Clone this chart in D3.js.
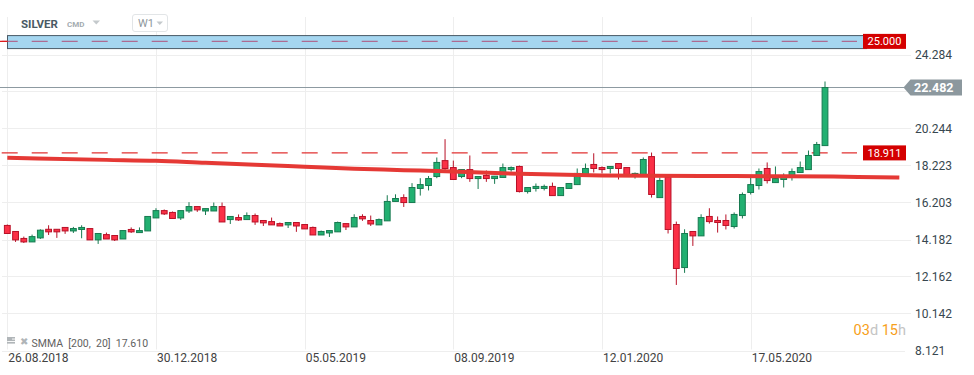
<!DOCTYPE html>
<html>
<head>
<meta charset="utf-8">
<script src="https://cdn.jsdelivr.net/npm/d3@7"></script>
<style>
  body { margin: 0; background: #fff; }
  svg { display: block; font-family: Roboto, "Open Sans", sans-serif; }
</style>
</head>
<body>
<div id="chart"></div>
<script>
// weekly candles, SILVER W1, first bar = week of 26.08.2018
const firstWeek = "2018-08-26";
const open = [14.95,14.62,14.24,14.05,14.27,14.74,14.74,14.84,14.65,14.73,
  14.78,14.16,14.45,14.40,14.21,14.73,14.56,14.65,15.36,15.76,
  15.66,15.36,15.74,15.98,15.74,15.74,15.98,15.27,15.38,15.27,
  15.49,15.22,15.16,15.05,14.98,15.11,15.00,14.84,14.43,14.54,
  14.60,15.05,14.87,15.44,15.22,14.98,15.20,16.26,16.47,16.20,
  16.97,17.13,17.62,18.49,18.11,17.62,18.00,17.51,17.68,17.51,
  17.57,18.00,18.17,16.80,16.97,16.97,17.08,16.58,16.97,17.18,
  17.73,18.28,18.11,18.06,18.33,18.11,17.68,17.68,18.71,16.47,
  17.58,15.00,12.65,14.62,14.38,15.44,15.22,15.22,14.89,15.49,
  16.75,17.13,18.06,17.29,17.46,17.57,17.84,18.00,18.77,19.31];
const high = [15.00,14.62,14.34,14.45,14.74,14.96,14.74,14.84,14.87,14.96,
  14.78,14.51,14.56,14.40,14.67,14.84,14.84,15.44,15.89,15.82,
  15.71,15.76,16.22,15.98,15.87,16.20,16.20,15.44,15.55,15.66,
  15.60,15.22,15.38,15.11,15.11,15.11,15.00,14.89,14.67,14.67,
  15.16,15.05,15.56,15.56,15.49,15.33,16.60,16.65,16.65,17.26,
  17.53,17.65,18.66,19.66,18.49,18.00,18.77,17.62,17.95,17.64,
  18.33,18.17,18.22,17.02,17.24,17.18,17.29,17.02,17.26,18.06,
  18.33,18.89,18.17,18.17,18.33,18.11,17.84,18.66,18.93,17.57,
  17.65,15.16,14.74,14.62,15.56,15.89,15.44,15.55,15.66,16.75,
  17.57,18.06,18.39,18.17,17.79,18.06,18.44,19.04,19.51,22.81];
const low = [14.51,14.05,13.99,14.05,14.21,14.43,14.27,14.49,14.54,14.25,
  14.16,13.94,14.21,14.10,14.21,14.54,14.56,14.65,15.36,15.52,
  15.33,15.25,15.63,15.69,15.52,15.74,15.14,15.03,15.20,15.27,
  14.98,14.92,14.98,14.92,14.81,14.60,14.76,14.43,14.43,14.32,
  14.60,14.70,14.87,15.20,14.92,14.98,15.20,16.26,15.96,16.20,
  16.58,16.86,17.53,17.98,17.46,17.53,17.33,16.94,17.33,17.22,
  17.57,17.89,16.75,16.69,16.80,16.86,16.58,16.58,16.97,17.18,
  17.73,17.84,17.79,17.79,17.46,17.68,17.51,17.68,16.47,16.47,
  14.51,11.70,12.36,13.83,14.38,15.05,14.56,14.73,14.78,15.33,
  16.64,16.91,17.24,17.29,17.02,17.40,17.84,18.00,18.77,19.31];
const close = [14.51,14.16,14.05,14.34,14.69,14.60,14.60,14.65,14.78,14.84,
  14.16,14.51,14.21,14.16,14.67,14.60,14.67,15.44,15.76,15.58,
  15.33,15.76,15.98,15.80,15.87,15.98,15.14,15.44,15.25,15.49,
  15.14,15.09,14.98,14.92,15.11,14.92,14.76,14.43,14.62,14.67,
  15.11,14.87,15.38,15.31,15.03,15.27,16.26,16.42,16.20,17.02,
  17.18,17.51,18.39,18.06,17.46,18.00,17.51,17.62,17.51,17.64,
  18.11,18.11,16.80,17.02,17.08,17.08,16.58,17.02,17.24,17.79,
  18.06,18.06,18.00,18.17,18.06,17.68,17.79,18.55,16.64,17.40,
  14.73,12.60,14.51,14.38,15.38,15.16,15.11,14.95,15.55,16.64,
  17.18,17.89,17.40,17.51,17.62,17.89,18.11,18.77,19.37,22.482];

// SMMA(200) shifted 20 bars, read at bar index
const smmaBar = [0, 12, 18, 24, 30, 36, 42, 48, 54, 62, 72, 84, 94, 103, 108];
const smmaVal = [18.64, 18.53, 18.48, 18.37, 18.27, 18.16, 18.05, 17.97, 17.89, 17.77, 17.68, 17.65, 17.64, 17.60, 17.57];

const yGrid = [24.284, 22.264, 20.244, 18.223, 16.203, 14.182, 12.162, 10.142, 8.121];
const yLabels = [24.284, 20.244, 18.223, 16.203, 14.182, 12.162, 10.142, 8.121];
const xTicks = ["2018-08-26", "2018-12-30", "2019-05-05", "2019-09-08", "2020-01-12", "2020-05-17"];
const levels = [25.000, 18.911];
const smmaLast = 17.610;

const width = 974, height = 375;
const plotLeft = 0, plotRight = 904, plotTop = 17, plotBottom = 349.5;

const parse = d3.utcParse("%Y-%m-%d");
const fmt = d3.utcFormat("%d.%m.%Y");
const t0 = parse(firstWeek);
const barDate = i => d3.utcWeek.offset(t0, i);

const x = d3.scaleUtc()
  .domain([t0, barDate(close.length - 1)])
  .range([7.3, 825]);
const y = d3.scaleLinear()
  .domain([8.121, 24.284])
  .range([350.5, 54.5]);

const svg = d3.select("#chart").append("svg")
  .attr("width", width)
  .attr("height", height);

svg.append("defs").append("clipPath").attr("id", "plot")
  .append("rect")
  .attr("x", plotLeft).attr("y", plotTop)
  .attr("width", plotRight - plotLeft).attr("height", plotBottom - plotTop);

// grid
svg.append("g").selectAll("line")
  .data(yGrid)
  .join("line")
  .attr("x1", 2).attr("x2", (d, i) => i === yGrid.length - 1 ? 905 : 911)
  .attr("y1", d => Math.round(y(d)) + 0.5)
  .attr("y2", d => Math.round(y(d)) + 0.5)
  .attr("stroke", "#eeeeee");

svg.append("g").selectAll("line")
  .data(xTicks.map(parse))
  .join("line")
  .attr("x1", d => Math.round(x(d)) + 0.5)
  .attr("x2", d => Math.round(x(d)) + 0.5)
  .attr("y1", plotTop).attr("y2", plotBottom)
  .attr("stroke", "#eeeeee");

// y axis labels
const yAxis = d3.axisRight(y).tickValues(yLabels).tickSize(0).tickPadding(0)
  .tickFormat(d3.format(".3f"));
svg.append("g")
  .attr("transform", "translate(915,0)")
  .call(yAxis)
  .call(g => g.select(".domain").remove())
  .selectAll("text")
  .attr("font-family", "Roboto, sans-serif")
  .attr("font-size", 12)
  .attr("fill", "#37474f");

// x axis labels
const xAxis = d3.axisBottom(x).tickValues(xTicks.map(parse)).tickSize(0).tickPadding(0)
  .tickFormat(fmt);
svg.append("g")
  .attr("transform", "translate(0,352)")
  .call(xAxis)
  .call(g => g.select(".domain").remove())
  .selectAll("text")
  .attr("text-anchor", "start")
  .attr("dx", 0.5)
  .attr("dy", 9.5)
  .attr("font-family", "Roboto, sans-serif")
  .attr("font-size", 12)
  .attr("fill", "#424242");

const plot = svg.append("g").attr("clip-path", "url(#plot)");

// blue zone around 25.000
plot.append("rect")
  .attr("x", 7.5).attr("y", y(25.000) - 5.8)
  .attr("width", 859).attr("height", 13)
  .attr("fill", "#a5d6f0")
  .attr("stroke", "#4a5a66").attr("stroke-width", 1);

// level lines
plot.append("g").selectAll("line")
  .data(levels)
  .join("line")
  .attr("x1", 1.7).attr("x2", 857)
  .attr("y1", d => y(d)).attr("y2", d => y(d))
  .attr("stroke", (d, i) => i === 0 ? "#b0507a" : "#dd1c1c")
  .attr("stroke-opacity", (d, i) => i === 0 ? 0.8 : 0.9)
  .attr("stroke-width", 1.3)
  .attr("stroke-dasharray", "16,14");
plot.append("line")
  .attr("x1", 0).attr("x2", 7.5)
  .attr("y1", y(levels[0])).attr("y2", y(levels[0]))
  .attr("stroke", "#dd1c1c").attr("stroke-width", 1.3);

// last price line
plot.append("line")
  .attr("x1", 0).attr("x2", plotRight)
  .attr("y1", y(close[close.length - 1])).attr("y2", y(close[close.length - 1]))
  .attr("stroke", "#8d9aa1").attr("stroke-width", 1);

// candles
const bars = d3.range(close.length);
const up = i => close[i] >= open[i];
const candle = plot.append("g").selectAll("g")
  .data(bars)
  .join("g");
candle.append("line")
  .attr("x1", i => x(barDate(i))).attr("x2", i => x(barDate(i)))
  .attr("y1", i => y(high[i])).attr("y2", i => y(low[i]))
  .attr("stroke", i => up(i) ? "#177a50" : "#b81127")
  .attr("stroke-width", 1);
candle.append("rect")
  .attr("x", i => x(barDate(i)) - 2.9)
  .attr("width", 5.8)
  .attr("y", i => y(Math.max(open[i], close[i])))
  .attr("height", i => Math.max(1, Math.abs(y(open[i]) - y(close[i]))))
  .attr("fill", i => up(i) ? "#22b071" : "#fb3046")
  .attr("stroke", i => up(i) ? "#177a50" : "#b81127")
  .attr("stroke-width", 1);

// SMMA line
const smmaLine = d3.line()
  .x(d => x(barDate(d[0])))
  .y(d => y(d[1]))
  .curve(d3.curveMonotoneX);
plot.append("path")
  .datum(smmaBar.map((b, i) => [b, smmaVal[i]]))
  .attr("d", smmaLine)
  .attr("fill", "none")
  .attr("stroke", "#e53935")
  .attr("stroke-width", 4);

// level labels
const lvl = svg.append("g").selectAll("g")
  .data(levels)
  .join("g")
  .attr("transform", d => `translate(863,${y(d) - 7.5})`);
lvl.append("rect")
  .attr("width", 43).attr("height", 15)
  .attr("fill", "#d40000");
lvl.append("text")
  .attr("x", 21.5).attr("y", 11.5)
  .attr("text-anchor", "middle")
  .attr("font-size", 11)
  .attr("fill", "#fff")
  .text(d => d3.format(".3f")(d));

// last price label
const lastY = y(close[close.length - 1]);
svg.append("path")
  .attr("d", `M903.5,${lastY} L910.5,${lastY - 8} L962,${lastY - 8} L962,${lastY + 8} L910.5,${lastY + 8} Z`)
  .attr("fill", "#8c989e");
svg.append("text")
  .attr("x", 914).attr("y", lastY + 4.5)
  .attr("font-size", 12.5).attr("font-weight", "bold")
  .attr("fill", "#fff")
  .text(d3.format(".3f")(close[close.length - 1]));

// header
svg.append("text")
  .attr("x", 21).attr("y", 27.5)
  .attr("font-size", 11.5).attr("font-weight", "bold")
  .attr("fill", "#4a5a64")
  .text("SILVER");
svg.append("text")
  .attr("x", 67).attr("y", 27)
  .attr("font-size", 8).attr("font-weight", "bold")
  .attr("fill", "#a4acb1")
  .text("CMD");
svg.append("path")
  .attr("d", "M92.5,20.5 L100,20.5 L96.25,24.5 Z")
  .attr("fill", "#c4c9cc");
svg.append("rect")
  .attr("x", 132.5).attr("y", 14.5).attr("width", 35).attr("height", 17).attr("rx", 2.5)
  .attr("fill", "#fff").attr("stroke", "#e2e5e7");
svg.append("text")
  .attr("x", 138).attr("y", 27)
  .attr("font-size", 11)
  .attr("fill", "#8e979c")
  .text("W1");
svg.append("path")
  .attr("d", "M156.5,21.5 L163,21.5 L159.75,25 Z")
  .attr("fill", "#c4c9cc");

// legend
const leg = svg.append("g").attr("transform", "translate(7,337)");
[0, 2.5, 5].forEach(o => leg.append("rect")
  .attr("x", 0).attr("y", o).attr("width", 8).attr("height", 1.6).attr("fill", "#b0b5b8"));
leg.append("rect").attr("x", 0).attr("y", 0).attr("width", 5).attr("height", 3).attr("fill", "#b0b5b8");
leg.append("text")
  .attr("x", 13).attr("y", 8)
  .attr("font-size", 10).attr("fill", "#b0b5b8")
  .text("✖");
leg.append("text")
  .attr("x", 24.5).attr("y", 9.5)
  .attr("font-size", 10.5).attr("fill", "#616161")
  .style("white-space", "pre")
  .text(`SMMA  [200,  20]  ${d3.format(".3f")(smmaLast)}`);

// countdown
const cd = svg.append("text")
  .attr("x", 906).attr("y", 335)
  .attr("text-anchor", "end")
  .attr("font-size", 14.5);
[["03", "#f7a01a"], ["d ", "#c4c4c4"], ["15", "#f7a01a"], ["h", "#c4c4c4"]]
  .forEach(([s, c]) => cd.append("tspan").attr("fill", c).style("white-space", "pre").text(s));
</script>
</body>
</html>
